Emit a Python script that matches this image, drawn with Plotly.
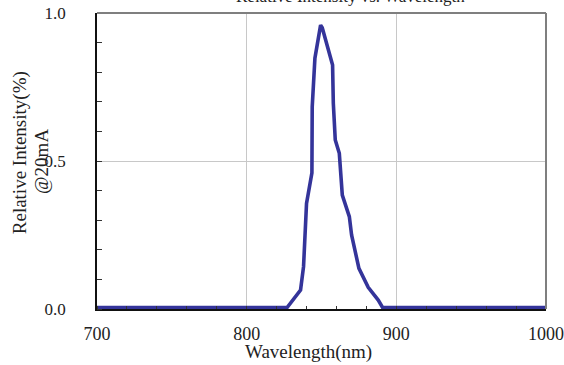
import plotly.graph_objects as go

wavelength = [700, 827, 836, 838, 840, 843.6, 843.8, 845.6, 849.4, 850.5, 857.4, 857.9, 859.2, 861.9, 863.9, 868.6, 870.1, 875.0, 881.2, 887.9, 890.8, 1000]
intensity = [0.005, 0.005, 0.064, 0.143, 0.357, 0.46, 0.683, 0.847, 0.959, 0.95, 0.824, 0.695, 0.571, 0.526, 0.385, 0.312, 0.25, 0.1375, 0.073, 0.030, 0.005, 0.005]

x_ticks = [700, 800, 900, 1000]
x_tick_labels = ["700", "800", "900", "1000"]
y_ticks = [0, 0.5, 1.0]
y_tick_labels = ["0.0", "0.5", "1.0"]

title_text = "Relative Intensity vs. Wavelength"
x_title = "Wavelength(nm)"
y_title_1 = "Relative Intensity(%)"
y_title_2 = "@20mA"

FONT = "Liberation Serif"
TXT = "#222222"

fig = go.Figure()
fig.add_trace(go.Scatter(
    x=wavelength, y=intensity, mode="lines",
    line=dict(color="#34349a", width=3.6),
    hoverinfo="skip", showlegend=False,
))

fig.update_layout(
    template="none",
    width=564, height=365,
    margin=dict(l=97, r=18, t=13, b=56, autoexpand=False),
    plot_bgcolor="white", paper_bgcolor="white",
    font=dict(family=FONT, size=17, color=TXT),
    showlegend=False,
)

fig.update_xaxes(
    range=[700, 1000], automargin=False,
    tickvals=x_ticks, ticktext=x_tick_labels,
    showgrid=True, gridcolor="#c8c8c8", gridwidth=1,
    showline=True, linecolor="#111111", linewidth=1.5,
    ticks="", ticklabelstandoff=8,
    minor=dict(dtick=20, tick0=700, ticks="inside", ticklen=3, tickcolor="#333333", showgrid=False),
    zeroline=False,
    tickfont=dict(family=FONT, size=18, color=TXT),
)
fig.update_yaxes(
    range=[0, 1.0], automargin=False,
    tickvals=y_ticks, ticktext=y_tick_labels,
    showgrid=True, gridcolor="#c8c8c8", gridwidth=1,
    showline=True, linecolor="#111111", linewidth=1.5,
    ticks="", ticklabelstandoff=26,
    minor=dict(dtick=0.1, tick0=0, ticks="inside", ticklen=5, tickcolor="#333333", showgrid=False),
    zeroline=False,
    tickfont=dict(family=FONT, size=17, color=TXT),
)

# gray frame on top and right
fig.add_shape(type="line", xref="paper", yref="paper", x0=0, x1=1, y0=1, y1=1,
              line=dict(color="#7f7f7f", width=2))
fig.add_shape(type="line", xref="paper", yref="paper", x0=1, x1=1, y0=0, y1=1,
              line=dict(color="#7f7f7f", width=2))

# clipped title at top
fig.add_annotation(text=title_text, xref="paper", yref="paper", x=0.565, y=1.016,
                   xanchor="center", yanchor="bottom", showarrow=False,
                   font=dict(family=FONT, size=17, color=TXT))

fig.add_annotation(text=x_title, xref="paper", yref="paper", x=0.472, y=-0.145,
                   xanchor="center", yanchor="middle", showarrow=False,
                   font=dict(family=FONT, size=19, color=TXT))

fig.add_annotation(text=y_title_1, xref="paper", yref="paper", x=-0.171, y=0.527,
                   xanchor="center", yanchor="middle", showarrow=False, textangle=-90,
                   font=dict(family=FONT, size=19, color=TXT))
fig.add_annotation(text=y_title_2, xref="paper", yref="paper", x=-0.125, y=0.5,
                   xanchor="center", yanchor="middle", showarrow=False, textangle=-90,
                   font=dict(family=FONT, size=19, color=TXT))

fig.write_html("out.html", config={"displayModeBar": False},
               post_script="document.body.style.margin='0';")
